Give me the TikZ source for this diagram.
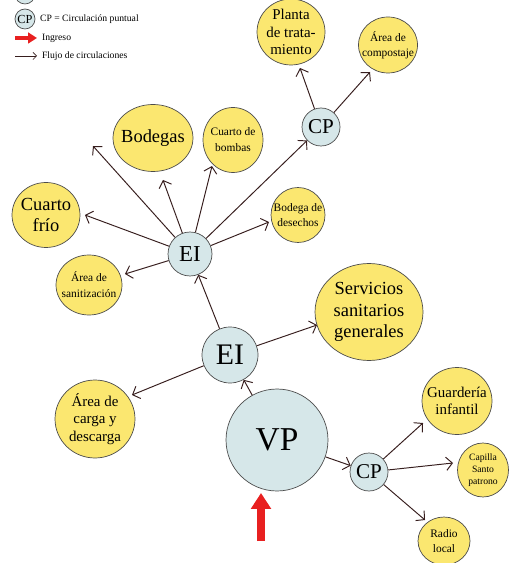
\documentclass[tikz,border=0pt]{standalone}
\usepackage{fontspec}
\setmainfont{Liberation Serif}
\usetikzlibrary{shapes.geometric, arrows.meta}

\definecolor{spaceyellow}{RGB}{251,231,112}
\definecolor{hubblue}{RGB}{214,231,233}
\definecolor{flowbrown}{RGB}{55,30,30}
\definecolor{ingressred}{RGB}{232,32,32}

\newcommand{\fs}[2]{\fontsize{#1}{#2}\selectfont}

\begin{document}
\begin{tikzpicture}[
      x=0.02cm, y=-0.02cm,
      space/.style={ellipse, draw=black!70, thin, fill=spaceyellow, inner sep=-6pt, align=center},
      hub/.style={circle, draw=black!70, thin, fill=hubblue, inner sep=0pt},
      flow/.style={-{Straight Barb[length=3.5pt,width=7.5pt]}, draw=flowbrown, line width=0.55pt},
      ingress/.style={-{Triangle[length=9pt,width=11pt]}, draw=ingressred, line width=5pt}
    ]
    \useasboundingbox (0,0) rectangle (508,563);

    % legend
    \node[hub, minimum size=0.4cm] (legTop) at (25,-6) {};
    \node[hub, minimum size=0.4cm, font=\fs{7}{7}] (legCP) at (25,19) {CP};
    \node[anchor=west, inner sep=1pt, font=\fs{5.5}{6}] (legCPtxt) at (38,19) {CP = Circulación puntual};
    \coordinate (legInA) at (15,38);
    \coordinate (legInB) at (37,38);
    \draw[ingress, line width=2pt, -{Triangle[length=5pt,width=6pt]}] (legInA) -- (legInB);
    \node[anchor=west, inner sep=1pt, font=\fs{5.5}{6}] (legIn) at (40,38) {Ingreso};
    \coordinate (legFlA) at (15,56);
    \coordinate (legFlB) at (37,56);
    \draw[flow, line width=0.4pt, -{Straight Barb[length=2pt,width=4pt]}] (legFlA) -- (legFlB);
    \node[anchor=west, inner sep=1pt, font=\fs{5.5}{6}] (legFl) at (40,56) {Flujo de circulaciones};

    % circulation hubs
    \node[hub, minimum size=2.04cm, font=\fs{19}{19}] (vp) at (277,440) {VP};
    \node[hub, minimum size=1.12cm, font=\fs{17}{17}] (eiB) at (230,355) {EI};
    \node[hub, minimum size=0.88cm, font=\fs{13}{13}] (eiA) at (190,254) {EI};
    \node[hub, minimum size=0.76cm, font=\fs{12}{12}] (cpA) at (321,127) {CP};
    \node[hub, minimum size=0.76cm, font=\fs{12}{12}] (cpB) at (369,472) {CP};

    % spaces
    \node[space, minimum width=1.36cm, minimum height=1.32cm, font=\fs{8.5}{10}] (planta) at (291,32) {Planta\\de trata-\\miento};
    \node[space, minimum width=1.18cm, minimum height=1.12cm, font=\fs{6.5}{8.5}] (compost) at (388,45) {Área de\\compostaje};
    \node[space, minimum width=1.6cm, minimum height=1.34cm, font=\fs{10.5}{12}] (bodegas) at (153,138) {Bodegas};
    \node[space, minimum width=1.2cm, minimum height=1.3cm, font=\fs{6.5}{9}] (bombas) at (233,140) {Cuarto de\\bombas};
    \node[space, minimum width=1.36cm, minimum height=1.3cm, font=\fs{10.5}{11.5}] (frio) at (46,215) {Cuarto\\frío};
    \node[space, minimum width=1.08cm, minimum height=1.1cm, font=\fs{6.5}{8.5}] (desechos) at (298,215) {Bodega de\\desechos};
    \node[space, minimum width=1.32cm, minimum height=1.2cm, font=\fs{6.5}{9}] (sanit) at (89,285) {Área de\\sanitización};
    \node[space, minimum width=2.16cm, minimum height=1.94cm, font=\fs{10.5}{12.4}] (serv) at (369,312) {Servicios\\sanitarios\\generales};
    \node[space, minimum width=1.6cm, minimum height=1.56cm, font=\fs{8.5}{10}] (carga) at (95,419) {Área de\\carga y\\descarga};
    \node[space, minimum width=1.4cm, minimum height=1.34cm, font=\fs{8.5}{10}] (guard) at (457,401) {Guardería\\infantil};
    \node[space, minimum width=1.02cm, minimum height=1.08cm, font=\fs{5.5}{7}] (capilla) at (483,470) {Capilla\\Santo\\patrono};
    \node[space, minimum width=1.04cm, minimum height=0.96cm, font=\fs{6.5}{8.5}] (radio) at (444,541) {Radio\\local};

    % arrow ends
    \coordinate (toBodL) at (93,146);
    \coordinate (toBodB) at (163,180);
    \coordinate (toBomb) at (212,166);
    \coordinate (toFrio) at (85,215);
    \coordinate (toDes) at (269,222);
    \coordinate (toSan) at (125,274);
    \coordinate (toServ) at (317,325);
    \coordinate (toCarga) at (132,395);
    \coordinate (toPlanta) at (300,68);
    \coordinate (toComp) at (370,72);
    \coordinate (toGuard) at (423,423);
    \coordinate (toCap) at (453,463);
    \coordinate (toRadio) at (425,520);
    \coordinate (inA) at (261,541);
    \coordinate (inB) at (261,493);

    % flows
    \draw[ingress] (inA) -- (inB);
    \draw[flow] (vp) -- (eiB);
    \draw[flow] (vp) -- (cpB);
    \draw[flow] (eiB) -- (eiA);
    \draw[flow] (eiB) -- (toServ);
    \draw[flow] (eiB) -- (toCarga);
    \draw[flow] (eiA) -- (toBodL);
    \draw[flow] (eiA) -- (toBodB);
    \draw[flow] (eiA) -- (toBomb);
    \draw[flow] (eiA) -- (toFrio);
    \draw[flow] (eiA) -- (toDes);
    \draw[flow] (eiA) -- (toSan);
    \draw[flow] (eiA) -- (cpA);
    \draw[flow] (cpA) -- (toPlanta);
    \draw[flow] (cpA) -- (toComp);
    \draw[flow] (cpB) -- (toGuard);
    \draw[flow] (cpB) -- (toCap);
    \draw[flow] (cpB) -- (toRadio);
  \end{tikzpicture}
\end{document}
